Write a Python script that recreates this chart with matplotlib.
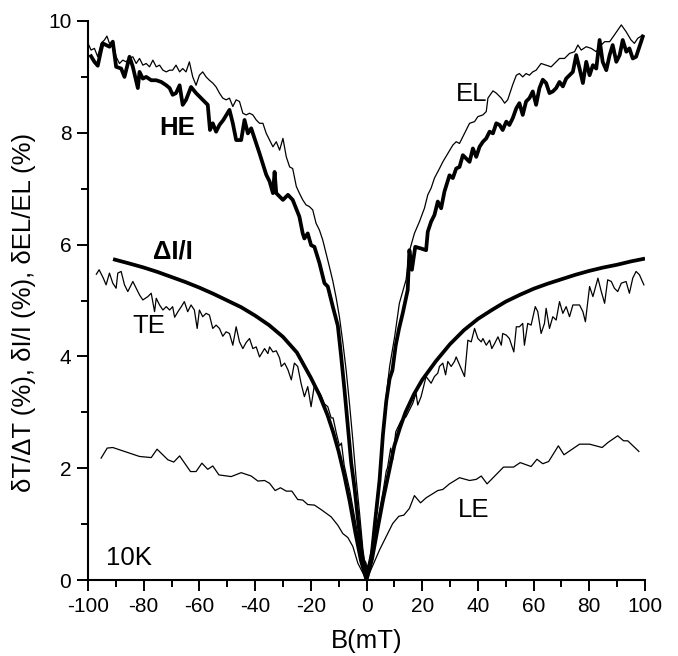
import matplotlib
matplotlib.use("Agg")
import matplotlib.pyplot as plt
from matplotlib.ticker import MultipleLocator

plt.rcParams['font.family'] = ['Liberation Sans', 'DejaVu Sans']
plt.rcParams['axes.unicode_minus'] = False

# ---------------- data ----------------
el_x = [-100.0, -98.9, -97.7, -96.5, -95.3, -94.1, -93.2, -92.3, -91.1, -89.9,
        -88.7, -87.5, -86.3, -85.1, -83.9, -82.7, -81.5, -80.3, -79.1, -77.9,
        -76.7, -75.5, -74.3, -73.1, -71.9, -70.7, -69.6, -68.4, -67.1, -66.0,
        -64.8, -63.6, -62.4, -61.2, -60.0, -58.8, -57.6, -56.4, -55.2, -54.0,
        -52.8, -51.6, -50.4, -49.2, -48.0, -46.8, -45.6, -44.4, -43.2, -42.0,
        -40.8, -39.6, -38.4, -37.2, -36.0, -34.8, -33.6, -32.4, -31.2, -30.0,
        -28.8, -27.6, -26.5, -25.2, -24.1, -22.9, -21.7, -20.5, -19.3, -18.1,
        -16.9, -15.7, -14.5, -13.3, -12.1, -10.9, -9.7, -8.5, -7.3, -6.1,
        -4.9, -3.7, -2.5, -1.3, -0.5,
        0.5, 2.0, 3.0, 4.7, 6.0, 7.1, 8.3, 10.1, 11.8, 14.2,
        15.5, 17.2, 19.0, 20.8, 22.0, 23.2, 24.4, 26.2, 27.4, 29.2,
        31.0, 32.2, 33.4, 35.2, 37.0, 38.8, 40.0, 41.8, 43.0, 43.6,
        45.4, 46.6, 48.4, 49.6, 50.7, 52.5, 53.8, 54.9, 56.1, 57.3,
        58.5, 59.7, 60.9, 62.7, 64.5, 66.3, 68.1, 69.3, 71.1, 72.9,
        74.7, 75.9, 77.1, 78.9, 80.7, 82.5, 83.7, 85.5, 87.3, 89.0,
        91.5, 93.2, 95.0, 96.2, 97.4, 99.2]
el_y = [9.60, 9.48, 9.51, 9.36, 9.60, 9.66, 9.73, 9.60, 9.63, 9.36,
        9.24, 9.30, 9.27, 9.33, 9.36, 9.24, 9.33, 9.21, 9.24, 9.18,
        9.30, 9.18, 9.21, 9.12, 9.09, 9.12, 9.12, 9.21, 9.09, 9.15,
        9.09, 9.27, 9.00, 8.85, 9.03, 9.09, 9.00, 8.94, 8.89, 8.82,
        8.71, 8.62, 8.59, 8.62, 8.47, 8.59, 8.56, 8.35, 8.32, 8.35,
        8.32, 8.23, 8.17, 8.17, 7.99, 7.87, 7.75, 7.84, 7.69, 7.90,
        7.57, 7.39, 7.36, 7.04, 6.92, 6.80, 6.71, 6.68, 6.62, 6.38,
        6.26, 6.08, 5.84, 5.60, 5.35, 5.05, 4.70, 4.25, 3.75, 3.15,
        2.50, 1.80, 1.20, 0.55, 0.25,
        0.25, 0.60, 1.10, 1.90, 2.75, 3.30, 3.82, 4.35, 4.95, 5.37,
        5.90, 6.20, 6.41, 6.65, 6.89, 7.01, 7.19, 7.36, 7.48, 7.63,
        7.78, 7.84, 7.81, 7.99, 8.17, 8.20, 8.29, 8.32, 8.38, 8.62,
        8.75, 8.71, 8.62, 8.53, 8.59, 8.86, 9.03, 9.06, 9.00, 9.06,
        9.03, 9.09, 9.12, 9.24, 9.21, 9.18, 9.27, 9.33, 9.33, 9.42,
        9.45, 9.57, 9.48, 9.54, 9.51, 9.45, 9.54, 9.63, 9.63, 9.75,
        9.93, 9.81, 9.66, 9.60, 9.69, 9.75]

he_x = [-98.9, -97.7, -96.5, -95.3, -94.7, -93.5, -92.3, -91.1, -89.9, -88.1,
        -86.9, -85.1, -83.9, -82.1, -81.5, -80.3, -79.1, -77.3, -75.5, -73.7,
        -71.9, -70.7, -69.6, -68.4, -67.1, -66.0, -64.8, -63.0, -61.2, -58.8,
        -57.0, -56.2, -55.2, -54.0, -52.8, -51.4, -49.2, -48.0, -46.8, -45.0,
        -43.8, -42.6, -41.4, -39.6, -38.4, -36.0, -34.8, -33.6, -33.0, -32.4,
        -31.2, -30.0, -28.2, -26.5, -24.1, -22.9, -22.3, -21.1, -19.9, -18.7,
        -16.9, -15.1, -13.9, -12.1, -10.3, -9.1, -7.9, -6.7, -5.5, -4.3,
        -3.1, -1.9, -1.3, -0.6, 0.0,
        0.6, 1.7, 3.0, 4.7, 5.9, 7.1, 8.3, 9.3, 10.5, 11.7,
        13.0, 14.8, 15.4, 16.3, 17.5, 19.6, 21.4, 22.0, 23.2, 24.4,
        25.6, 26.8, 28.0, 29.8, 31.0, 32.2, 33.4, 34.6, 35.8, 37.0,
        38.2, 39.4, 40.6, 41.8, 43.0, 44.2, 45.4, 46.6, 47.8, 48.9,
        50.2, 51.3, 52.5, 53.8, 54.9, 56.1, 57.3, 58.5, 59.7, 60.9,
        62.1, 63.3, 64.5, 65.7, 66.9, 68.1, 69.3, 70.5, 71.7, 72.9,
        74.1, 75.3, 76.5, 77.7, 78.9, 80.1, 81.3, 82.5, 83.7, 84.8,
        86.1, 87.3, 88.4, 89.7, 90.9, 92.0, 93.3, 94.4, 95.6, 96.8,
        98.0, 99.2]
he_y = [9.37, 9.27, 9.20, 9.48, 9.60, 9.57, 9.54, 9.63, 9.18, 9.15,
        9.00, 9.36, 9.18, 8.80, 9.09, 8.97, 9.00, 8.94, 8.94, 8.91,
        8.85, 8.80, 8.68, 8.71, 8.85, 8.50, 8.59, 8.82, 8.71, 8.59,
        8.50, 8.05, 8.17, 8.02, 8.14, 8.23, 8.41, 8.17, 7.87, 7.87,
        8.23, 7.99, 8.08, 7.81, 7.63, 7.25, 7.13, 6.92, 7.30, 6.92,
        6.86, 6.80, 6.89, 6.80, 6.50, 6.20, 6.11, 6.20, 5.99, 5.96,
        5.67, 5.31, 5.25, 4.89, 4.55, 4.00, 3.40, 2.75, 2.10, 1.65,
        1.10, 0.55, 0.36, 0.30, 0.05,
        0.20, 0.36, 1.00, 1.79, 2.60, 3.20, 3.60, 3.75, 4.20, 4.50,
        4.77, 5.19, 5.90, 5.55, 5.96, 5.93, 5.90, 6.23, 6.41, 6.53,
        6.77, 6.65, 6.95, 7.24, 7.19, 7.36, 7.39, 7.60, 7.54, 7.48,
        7.72, 7.57, 7.75, 7.84, 7.90, 8.02, 7.99, 8.17, 8.14, 8.05,
        8.20, 8.14, 8.26, 8.44, 8.53, 8.32, 8.56, 8.62, 8.74, 8.50,
        8.80, 8.95, 8.89, 8.71, 8.74, 8.80, 8.91, 8.83, 8.97, 9.03,
        9.09, 9.39, 9.15, 8.89, 9.27, 9.03, 9.21, 9.15, 9.66, 9.27,
        9.12, 9.39, 9.57, 9.27, 9.39, 9.66, 9.45, 9.51, 9.33, 9.36,
        9.54, 9.72]

di_x = [-91, -85, -80, -75, -70, -65, -60, -55, -50, -45,
        -40, -35, -30, -25, -20, -17, -14, -12, -10, -8,
        -6, -4, -2, 0,
        2, 4, 6, 8, 10, 12, 14, 17, 20, 25,
        30, 35, 40, 45, 50, 55, 60, 65, 70, 75,
        80, 85, 90, 95, 100]
di_y = [5.74, 5.66, 5.59, 5.51, 5.42, 5.33, 5.23, 5.12, 5.00, 4.88,
        4.73, 4.56, 4.35, 4.07, 3.62, 3.32, 2.95, 2.65, 2.30, 1.88,
        1.40, 0.85, 0.35, 0.00,
        0.38, 0.92, 1.45, 1.92, 2.40, 2.72, 3.00, 3.32, 3.58, 3.92,
        4.22, 4.47, 4.67, 4.83, 4.98, 5.10, 5.21, 5.30, 5.38, 5.46,
        5.53, 5.59, 5.64, 5.70, 5.75]

te_x = [-97.0, -96.0, -94.5, -93.5, -92.3, -91.1, -89.9, -89.3, -88.1, -86.9,
        -85.7, -83.9, -82.7, -81.5, -80.3, -78.5, -77.3, -76.1, -75.5, -74.3,
        -73.1, -71.9, -70.7, -69.6, -68.9, -67.7, -66.5, -65.4, -64.2, -63.0,
        -61.8, -60.8, -60.0, -58.8, -57.6, -56.4, -55.2, -54.0, -52.8, -51.6,
        -50.4, -49.2, -48.0, -46.8, -45.6, -44.4, -43.2, -42.0, -40.8, -39.6,
        -38.4, -36.6, -35.4, -34.8, -33.6, -32.4, -31.2, -30.6, -29.4, -28.2,
        -27.0, -25.9, -24.7, -23.5, -22.3, -21.1, -19.9, -18.7, -17.5, -16.3,
        -15.1, -13.9, -12.7, -12.0, -10.8, -9.7, -9.0, -8.0, -6.0, -4.0,
        -2.0, -0.5, 0.0,
        0.5, 2.0, 4.0, 6.0, 7.1, 7.5, 8.7, 9.4, 10.5, 12.3,
        14.2, 15.4, 16.6, 17.8, 18.4, 19.6, 20.2, 21.4, 23.2, 24.4,
        25.6, 26.2, 27.4, 28.4, 29.2, 30.4, 31.6, 32.2, 33.4, 35.2,
        36.4, 37.6, 38.8, 40.0, 41.2, 41.8, 43.0, 44.2, 45.0, 46.0,
        47.2, 48.4, 48.9, 50.2, 51.3, 52.9, 53.8, 54.9, 56.1, 56.7,
        57.9, 59.1, 60.6, 61.5, 62.7, 63.9, 64.5, 65.7, 66.9, 68.1,
        69.3, 70.5, 71.7, 72.9, 74.1, 76.5, 77.7, 78.6, 80.1, 81.3,
        83.1, 84.3, 85.5, 86.6, 87.9, 89.0, 90.2, 91.5, 93.2, 94.4,
        95.6, 96.8, 98.0, 99.6]
te_y = [5.47, 5.55, 5.40, 5.28, 5.49, 5.31, 5.22, 5.49, 5.52, 5.28,
        5.16, 5.34, 5.22, 5.10, 5.01, 5.07, 5.13, 4.80, 5.04, 4.92,
        4.83, 4.89, 4.83, 4.89, 4.70, 4.80, 4.89, 4.98, 4.80, 4.92,
        4.83, 4.50, 4.83, 4.71, 4.77, 4.74, 4.50, 4.56, 4.50, 4.36,
        4.44, 4.41, 4.20, 4.53, 4.26, 4.14, 4.25, 4.32, 4.14, 4.17,
        3.99, 4.14, 4.05, 4.17, 4.08, 4.10, 3.97, 3.82, 3.88, 3.76,
        3.58, 3.88, 3.82, 3.52, 3.28, 3.46, 3.10, 3.49, 3.40, 3.30,
        3.15, 3.10, 2.90, 2.90, 2.62, 2.40, 2.45, 2.05, 1.60, 1.05,
        0.50, 0.10, 0.00,
        0.10, 0.50, 1.05, 1.60, 1.95, 2.00, 2.36, 2.15, 2.65, 2.84,
        2.92, 3.04, 3.16, 3.34, 3.13, 3.28, 3.40, 3.64, 3.52, 3.64,
        3.70, 3.82, 3.88, 3.67, 3.91, 3.82, 3.91, 3.99, 3.85, 3.64,
        4.29, 4.26, 4.50, 4.32, 4.26, 4.32, 4.20, 4.29, 4.14, 4.23,
        4.35, 4.20, 4.41, 4.38, 4.32, 4.08, 4.53, 4.53, 4.59, 4.20,
        4.59, 4.56, 4.89, 4.80, 4.41, 4.59, 4.86, 4.50, 4.71, 4.65,
        4.98, 4.77, 4.89, 4.71, 4.92, 4.92, 4.80, 4.62, 5.25, 5.07,
        5.40, 5.16, 4.95, 5.37, 5.34, 5.22, 5.16, 5.31, 5.34, 5.13,
        5.40, 5.52, 5.46, 5.28]

le_x = [-95.3, -93.1, -91.1, -85.7, -81.5, -77.3, -75.2, -71.3, -69.2, -67.1,
        -63.2, -61.2, -59.1, -57.0, -55.2, -53.0, -48.6, -45.0, -41.4, -39.0,
        -36.6, -34.8, -32.8, -30.9, -28.8, -26.8, -24.7, -22.9, -21.1, -18.7,
        -16.3, -12.7, -10.3, -8.5, -6.7, -4.9, -3.1, 0.0,
        4.7, 9.4, 11.6, 13.4, 15.4, 17.2, 19.4, 21.4, 25.6, 27.4,
        29.8, 33.4, 37.0, 39.4, 41.2, 43.3, 49.2, 52.8, 55.2, 59.1,
        61.2, 63.3, 65.4, 68.9, 70.9, 76.5, 80.1, 84.6, 86.7, 90.2,
        92.3, 93.8, 97.8]
le_y = [2.18, 2.36, 2.37, 2.28, 2.21, 2.19, 2.34, 2.15, 2.11, 2.22,
        1.94, 1.94, 2.09, 1.98, 2.04, 1.88, 1.85, 1.92, 1.86, 1.77,
        1.78, 1.73, 1.60, 1.65, 1.59, 1.59, 1.44, 1.43, 1.35, 1.34,
        1.26, 1.13, 0.98, 0.83, 0.76, 0.60, 0.30, 0.00,
        0.54, 1.01, 1.14, 1.16, 1.28, 1.51, 1.38, 1.47, 1.60, 1.62,
        1.72, 1.83, 1.78, 1.80, 1.86, 1.72, 2.02, 2.02, 2.10, 2.03,
        2.16, 2.08, 2.12, 2.40, 2.24, 2.43, 2.43, 2.37, 2.46, 2.58,
        2.49, 2.49, 2.30]

x_ticks = [-100, -80, -60, -40, -20, 0, 20, 40, 60, 80, 100]
y_ticks = [0, 2, 4, 6, 8, 10]

# ---------------- figure ----------------
W, H = 678, 656
fig = plt.figure(figsize=(W / 100, H / 100), dpi=100)
ax = fig.add_axes([88 / W, 1 - 580 / H, 557 / W, 559 / H])

thin = 0.9
thick = 2.7
ax.plot(le_x, le_y, color='black', lw=thin)
ax.plot(te_x, te_y, color='black', lw=thin)
ax.plot(el_x, el_y, color='black', lw=thin)
ax.plot(di_x, di_y, color='black', lw=thick, solid_capstyle='butt')
ax.plot(he_x, he_y, color='black', lw=thick, solid_joinstyle='round')

ax.set_xlim(-100, 100)
ax.set_ylim(0, 10)
ax.set_xticks(x_ticks)
ax.set_yticks(y_ticks)
ax.xaxis.set_minor_locator(MultipleLocator(10))
ax.yaxis.set_minor_locator(MultipleLocator(1))
for s in ('top', 'right'):
    ax.spines[s].set_visible(False)
for s in ('left', 'bottom'):
    ax.spines[s].set_linewidth(1.5)
ax.tick_params(which='major', direction='out', length=8, width=1.4,
               labelsize=15, pad=4)
ax.tick_params(which='minor', direction='out', length=4.8, width=1.4)

lab_fs = 18.5
fig.text(367 / W, 1 - 648 / H, 'B(mT)', fontsize=lab_fs, ha='center', va='baseline')
fig.text(24 / W, 1 - 312 / H, 'δT/ΔT (%), δI/I (%), δEL/EL (%)', fontsize=lab_fs,
         rotation=90, ha='center', va='center')

fs = 18.5
ax.text(-74.3, 7.96, 'HE', fontsize=fs, fontweight='bold', ha='left', va='baseline')
ax.text(-76.8, 5.76, 'ΔI/I', fontsize=fs, fontweight='bold', ha='left', va='baseline')
ax.text(-83.9, 4.42, 'TE', fontsize=fs, ha='left', va='baseline')
ax.text(32.2, 8.56, 'EL', fontsize=fs, ha='left', va='baseline')
ax.text(32.8, 1.13, 'LE', fontsize=fs, ha='left', va='baseline')
ax.text(-93.4, 0.27, '10K', fontsize=fs, ha='left', va='baseline')

fig.savefig('out.png', dpi=100)
